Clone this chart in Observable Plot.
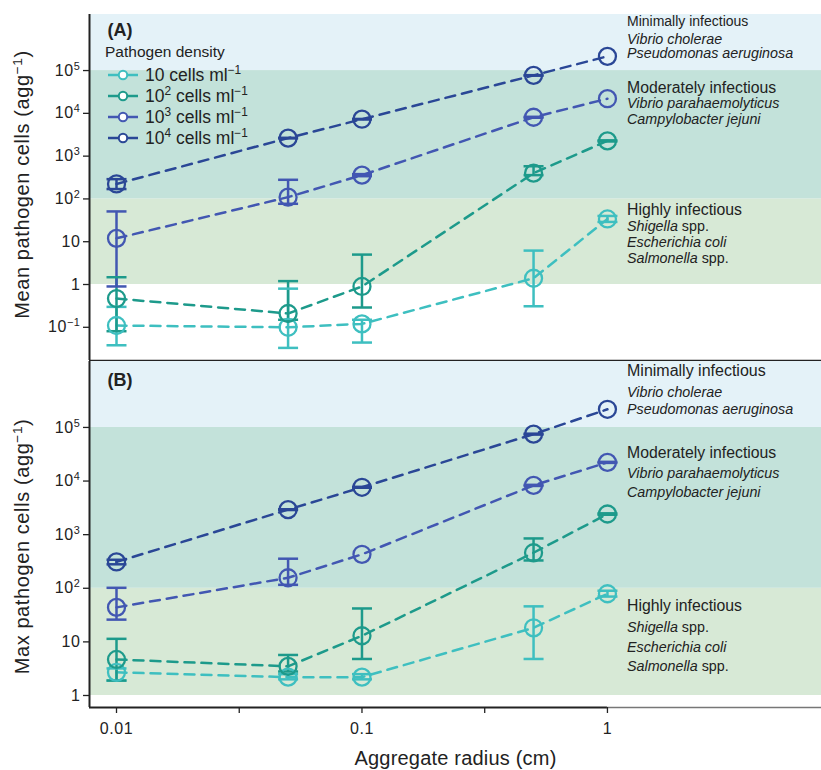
<!DOCTYPE html>
<html><head><meta charset="utf-8">
<script src="https://cdn.jsdelivr.net/npm/d3@7"></script>
<script src="https://cdn.jsdelivr.net/npm/@observablehq/plot@0.6"></script>
<style>
body{margin:0;background:#fff;font-family:"Liberation Sans",Arial,Helvetica,sans-serif;color:#222}
#fig{position:relative;width:821px;height:770px;overflow:hidden;background:#fff}
#fig svg{position:absolute;left:0;overflow:visible}
.lbl{position:absolute;white-space:nowrap;line-height:0.94;color:#222}
.lbl sup{font-size:68%;line-height:0;vertical-align:0.55em}
</style></head><body><div id="fig"></div>
<script>
// ---------- data ----------
const radius = [0.01, 0.05, 0.1, 0.5, 1];
const densities = ["10", "10^2^", "10^3^", "10^4^"];
const densityLegend = ["10", "10<sup>2</sup>", "10<sup>3</sup>", "10<sup>4</sup>"];
const densityColors = ["#3ebfc0", "#1d9a8b", "#4257b2", "#2a4796"];

// Panel A: mean pathogen cells per aggregate (null = no visible error bar)
const mean10 = [0.11, 0.10, 0.12, 1.4, 34];
const mean10Lo = [0.038, 0.033, 0.044, 0.31, 29];
const mean10Hi = [0.3, 0.8, 0.15, 6.2, 40];
const mean100 = [0.47, 0.21, 0.9, 400, 2270];
const mean100Lo = [0.081, 0.15, 0.29, 360, 2200];
const mean100Hi = [1.48, 1.2, 5.0, 580, 2340];
const mean1000 = [12, 110, 360, 8100, 22000];
const mean1000Lo = [0.9, 77, 340, 7900, null];
const mean1000Hi = [51, 280, 380, 8300, null];
const mean10000 = [224, 2640, 7300, 77000, 215000];
const mean10000Lo = [170, 2600, 7200, 76000, null];
const mean10000Hi = [290, 2680, 7400, 78000, null];

// Panel B: max pathogen cells per aggregate
const max10 = [2.7, 2.2, 2.2, 18.3, 79];
const max10Lo = [1.9, 2.0, 2.0, 4.8, 70];
const max10Hi = [3.2, 2.5, 2.5, 46, 90];
const max100 = [4.7, 3.5, 13, 460, 2430];
const max100Lo = [1.9, 2.8, 4.8, 330, 2350];
const max100Hi = [11.4, 5.7, 42, 850, 2500];
const max1000 = [44, 157, 430, 8300, 22300];
const max1000Lo = [26, 116, null, 8100, 21800];
const max1000Hi = [102, 356, null, 8500, 22800];
const max10000 = [310, 2930, 7650, 75000, 218000];
const max10000Lo = [280, 2880, 7500, 73500, null];
const max10000Hi = [340, 2980, 7800, 76500, null];

// infectiousness bands
const bandNames = ["Highly infectious", "Moderately infectious", "Minimally infectious"];
const bandLo = [1, 100, 1e5];
const bandHi = [100, 1e5, 1e9];
const bandColors = ["#d7e9d6", "#c3e2da", "#e4f2f8"];

// ticks
const yTicksA = [0.1, 1, 10, 100, 1e3, 1e4, 1e5];
const yLabelsA = ["10^−1^", "1", "10", "10^2^", "10^3^", "10^4^", "10^5^"];
const yTicksB = [1, 10, 100, 1e3, 1e4, 1e5];
const yLabelsB = ["1", "10", "10^2^", "10^3^", "10^4^", "10^5^"];
const xTicksMajor = [0.01, 0.1, 1];
const xLabelsMajor = ["0.01", "0.1", "1"];
const xTicksMinor = [Math.sqrt(0.001), Math.sqrt(0.1)];

// ---------- helpers ----------
function rowsFor(series) {
  const out = [];
  series.forEach(([v, lo, hi], i) => {
    radius.forEach((r, j) => out.push({density: densities[i], r, v: v[j], lo: lo[j], hi: hi[j]}));
  });
  return out;
}
const rowsA = rowsFor([[mean10, mean10Lo, mean10Hi], [mean100, mean100Lo, mean100Hi], [mean1000, mean1000Lo, mean1000Hi], [mean10000, mean10000Lo, mean10000Hi]]);
const rowsB = rowsFor([[max10, max10Lo, max10Hi], [max100, max100Lo, max100Hi], [max1000, max1000Lo, max1000Hi], [max10000, max10000Lo, max10000Hi]]);
const bands = bandNames.map((name, i) => ({name, lo: bandLo[i], hi: bandHi[i], color: bandColors[i]}));

const capSymbol = {draw(ctx, size) { const w = Math.sqrt(size / Math.PI); ctx.moveTo(-w, 0); ctx.lineTo(w, 0); }};
const xDomain = [Math.pow(10, -2.110), Math.pow(10, 0.872)];
const FONT = '"Liberation Sans", Arial, Helvetica, sans-serif';
const NS = "http://www.w3.org/2000/svg";

function fixSup(svg) {
  svg.querySelectorAll("text").forEach(t => {
    if (t.children.length === 0 && t.textContent.includes("^")) {
      const parts = t.textContent.split("^");
      t.textContent = "";
      parts.forEach((p, i) => {
        if (!p) return;
        const ts = document.createElementNS(NS, "tspan");
        ts.textContent = p;
        if (i % 2) { ts.setAttribute("baseline-shift", "super"); ts.setAttribute("style", "font-size:68%"); }
        t.appendChild(ts);
      });
    }
  });
}

function panel({rows, yDomain, yTicks, yLabels, height, marginTop, marginBottom, title, titleDy, tag, tagDy, xAxis}) {
  const yMap = new Map(yTicks.map((t, i) => [t, yLabels[i]]));
  const errRows = rows.filter(d => d.lo != null && d.hi != null);
  const marks = [
    Plot.rect(bands, {x1: xDomain[0], x2: xDomain[1], y1: "lo", y2: "hi", fill: "color", clip: true}),
    Plot.line(rows, {x: "r", y: "v", z: "density", stroke: "density", strokeWidth: 2.5, strokeDasharray: "10,7"}),
    Plot.ruleX(errRows, {x: "r", y1: "lo", y2: "hi", stroke: "density", strokeWidth: 2.5}),
    Plot.dot(errRows, {x: "r", y: "lo", symbol: capSymbol, r: 10, stroke: "density", strokeWidth: 2.5, fill: "none"}),
    Plot.dot(errRows, {x: "r", y: "hi", symbol: capSymbol, r: 10, stroke: "density", strokeWidth: 2.5, fill: "none"}),
    Plot.dot(rows, {x: "r", y: "v", r: 8.5, stroke: "density", strokeWidth: 2.3, fill: "none"}),
    Plot.axisY({ticks: yTicks, tickFormat: d => yMap.get(d), tickSize: 6, tickPadding: 3, fontSize: 16, stroke: "#222", strokeWidth: 1.3, label: null}),
    Plot.ruleX([xDomain[0]], {stroke: "#222", strokeWidth: 2}),
    Plot.text([title], {text: d => d, frameAnchor: "left", textAnchor: "middle", lineAnchor: "middle", rotate: -90, dx: -67, dy: titleDy, fontSize: 20}),
    Plot.text([tag], {text: d => d, frameAnchor: "top-left", dx: 18, dy: tagDy, fontSize: 18, fontWeight: "bold", textAnchor: "start", lineAnchor: "middle"})
  ];
  if (xAxis) {
    const xMap = new Map(xTicksMajor.map((t, i) => [t, xLabelsMajor[i]]));
    marks.push(
      Plot.ruleY([yDomain[0]], {x1: xDomain[0], x2: 1, stroke: "#222", strokeWidth: 2.2}),
      Plot.ruleY([yDomain[0]], {x1: 1, x2: xDomain[1], stroke: "#777", strokeWidth: 1.3}),
      Plot.axisX({ticks: xTicksMajor, tickFormat: d => xMap.get(d), tickSize: 6, tickPadding: 9, fontSize: 16, stroke: "#222", strokeWidth: 1.3, label: null}),
      Plot.axisX({ticks: xTicksMinor, tickFormat: () => "", tickSize: 6, stroke: "#222", strokeWidth: 1.3, label: null}),
      Plot.text(["Aggregate radius (cm)"], {text: d => d, frameAnchor: "bottom", lineAnchor: "middle", dy: 51, fontSize: 20})
    );
  } else {
    marks.push(Plot.ruleY([yDomain[0]], {stroke: "#222", strokeWidth: 1.5}));
  }
  const svg = Plot.plot({
    width: 821, height, marginLeft: 89, marginRight: 0, marginTop, marginBottom,
    x: {type: "log", domain: xDomain, axis: xAxis ? undefined : null},
    y: {type: "log", domain: yDomain},
    color: {domain: densities, range: densityColors},
    style: {fontFamily: FONT, fontSize: "16px", color: "#222", background: "transparent", overflow: "visible"},
    marks
  });
  fixSup(svg);
  svg.querySelectorAll('[aria-label="y-axis tick label"] text, [aria-label="x-axis tick label"] text').forEach(t => t.setAttribute("letter-spacing", "0.6"));
  svg.querySelectorAll('text').forEach(t => {
    if (t.textContent.includes("pathogen")) t.setAttribute("letter-spacing", "0.6");
    if (t.textContent.includes("Aggregate")) t.setAttribute("letter-spacing", "0.2");
  });
  return svg;
}

const fig = document.getElementById("fig");
const svgA = panel({rows: rowsA, yDomain: [Math.pow(10, -1.776), Math.pow(10, 6.31)], yTicks: yTicksA, yLabels: yLabelsA,
  height: 361, marginTop: 14, marginBottom: 1, title: "Mean pathogen cells (agg^−1^)", titleDy: -3, tag: "(A)", tagDy: 16, xAxis: false});
svgA.style.top = "0px";
const svgB = panel({rows: rowsB, yDomain: [Math.pow(10, -0.224), Math.pow(10, 6.23)], yTicks: yTicksB, yLabels: yLabelsB,
  height: 410, marginTop: 1, marginBottom: 63, title: "Max pathogen cells (agg^−1^)", titleDy: 12, tag: "(B)", tagDy: 19, xAxis: true});
svgB.style.top = "360px";
fig.appendChild(svgA);
fig.appendChild(svgB);

// ---------- legend (panel A) ----------
function addLabel(html, x, cy, size, extra) {
  const d = document.createElement("div");
  d.className = "lbl";
  d.innerHTML = html;
  d.style.left = x + "px";
  d.style.top = (cy - size * 0.47) + "px";
  d.style.fontSize = size + "px";
  if (extra) Object.assign(d.style, extra);
  fig.appendChild(d);
  return d;
}
addLabel("Pathogen density", 105, 52, 15.5);
densityLegend.forEach((lab, i) => {
  const cy = 75 + i * 21;
  const s = document.createElementNS(NS, "svg");
  s.setAttribute("width", 34); s.setAttribute("height", 14);
  s.style.left = "106px"; s.style.top = (cy - 7) + "px";
  s.innerHTML = `<line x1="2" x2="32" y1="7" y2="7" stroke="${densityColors[i]}" stroke-width="2.5"/><circle cx="17" cy="7" r="4.2" fill="#fff" stroke="${densityColors[i]}" stroke-width="2"/>`;
  fig.appendChild(s);
  addLabel(lab + " cells ml<sup>−1</sup>", 145, cy, 17.5);
});

// ---------- annotations ----------
const annA = [
  ["Minimally infectious", 22, 14], ["<i>Vibrio cholerae</i>", 39.5, 14.3], ["<i>Pseudomonas aeruginosa</i>", 53.5, 14.3],
  ["Moderately infectious", 88.5, 15.8], ["<i>Vibrio parahaemolyticus</i>", 104, 14.3], ["<i>Campylobacter jejuni</i>", 120, 14.3],
  ["Highly infectious", 210.5, 15.8], ["<i>Shigella</i> spp.", 226.5, 14.3], ["<i>Escherichia coli</i>", 242.5, 14.3], ["<i>Salmonella</i> spp.", 258.5, 14.3]
];
const annB = [
  ["Minimally infectious", 370.7, 16], ["<i>Vibrio cholerae</i>", 392.3, 14.3], ["<i>Pseudomonas aeruginosa</i>", 410, 14.3],
  ["Moderately infectious", 453.3, 15.8], ["<i>Vibrio parahaemolyticus</i>", 473.3, 14.3], ["<i>Campylobacter jejuni</i>", 492.7, 14.3],
  ["Highly infectious", 606.7, 15.8], ["<i>Shigella</i> spp.", 627.3, 14.3], ["<i>Escherichia coli</i>", 647.3, 14.3], ["<i>Salmonella</i> spp.", 666.7, 14.3]
];
[...annA, ...annB].forEach(([t, cy, s]) => addLabel(t, 627, cy, s));
</script>
</body></html>
